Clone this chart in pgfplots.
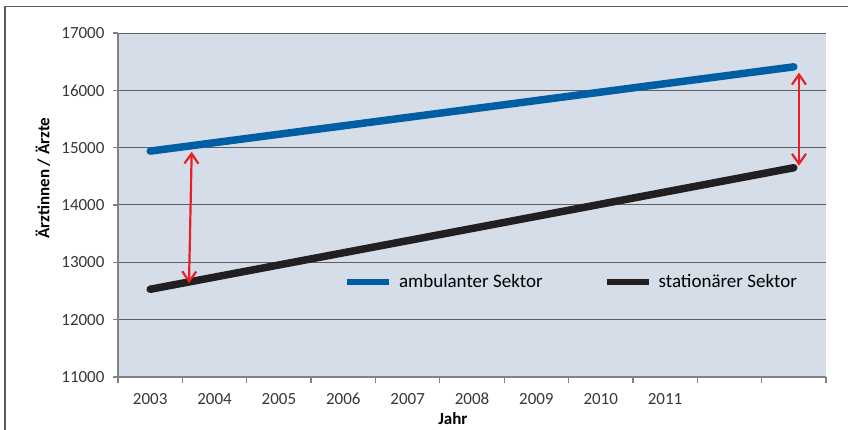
\documentclass[border=0pt]{standalone}
\usepackage{fontspec}
\setmainfont{Carlito}
\usepackage{pgfplots}
\pgfplotsset{compat=1.18}
\usetikzlibrary{arrows.meta}

\definecolor{plotbg}{RGB}{213,222,232}
\definecolor{ambblue}{RGB}{0,94,165}
\definecolor{statblack}{RGB}{35,31,32}
\definecolor{arrowred}{RGB}{232,30,40}
\definecolor{gridgray}{RGB}{95,95,95}
\definecolor{axisgray}{RGB}{130,130,130}
\definecolor{framegray}{RGB}{90,90,90}
\definecolor{ticktext}{RGB}{55,55,55}

\begin{document}
\begin{tikzpicture}
\begin{axis}[
  scale only axis, width=708pt, height=344pt,
  at={(0pt,0pt)}, anchor=south west,
  xmin=-0.5, xmax=10.5, ymin=11000, ymax=17000,
  axis x line=bottom, axis y line=left,
  axis line style={axisgray, line width=1.2pt, -},
  axis background/.style={fill=plotbg},
  xtick={0,...,8},
  xticklabels={2003,2004,2005,2006,2007,2008,2009,2010,2011},
  major x tick style={draw=none},
  minor xtick={-0.5,0.5,...,10.5},
  minor x tick style={axisgray, line width=1.2pt},
  ytick={11000,12000,...,17000},
  y tick style={axisgray, line width=1.2pt},
  ymajorgrids, major grid style={gridgray, line width=1pt},
  tick align=outside, major tick length=5pt, minor tick length=6pt,
  scaled y ticks=false,
  /pgf/number format/1000 sep={},
  /pgf/number format/assume math mode=true,
  tick label style={font=\fontsize{17}{20}\selectfont, text=ticktext},
  xticklabel style={text height=12pt, text depth=0pt, yshift=-7pt},
  yticklabel style={xshift=-5pt},
  xlabel={Jahr}, ylabel={Ärztinnen / Ärzte},
  label style={font=\bfseries\fontsize{17}{20}\selectfont},
  xlabel style={at={(axis description cs:0.473,-0.122)}, anchor=center},
  ylabel style={at={(axis description cs:-0.106,0.578)}, anchor=center},
  legend style={draw=none, fill=none, at={(axis description cs:0.319,0.276)},
    anchor=west, legend columns=2, inner sep=0pt,
    font=\fontsize{19}{22}\selectfont,
    nodes={inner xsep=7pt},
    /tikz/every even column/.append style={column sep=54pt}},
  legend image code/.code={\draw[#1, line width=6pt, line cap=butt] (0pt,0pt) -- (42pt,0pt);},
]
\addplot[ambblue, line width=7.5pt, line cap=round] coordinates {(0,14940) (10,16410)};
\addlegendentry{ambulanter Sektor}
\addplot[statblack, line width=7.5pt, line cap=round] coordinates {(0,12530) (10,14650)};
\addlegendentry{stationärer Sektor}
\addplot[forget plot, arrowred, line width=2.2pt, {Straight Barb[length=10pt,width=14pt]}-{Straight Barb[length=10pt,width=14pt]}]
  coordinates {(0.645,14930) (0.603,12634)};
\addplot[forget plot, arrowred, line width=2.2pt, {Straight Barb[length=10pt,width=14pt]}-{Straight Barb[length=10pt,width=14pt]}]
  coordinates {(10.08,16308) (10.08,14685)};
\end{axis}
\draw[framegray, line width=1.2pt] (-113pt,-53pt) -- (-113pt,370.3pt) -- (730pt,370.3pt);
\pgfresetboundingbox
\path (-118pt,-53pt) rectangle (730pt,377pt);
\end{tikzpicture}
\end{document}
